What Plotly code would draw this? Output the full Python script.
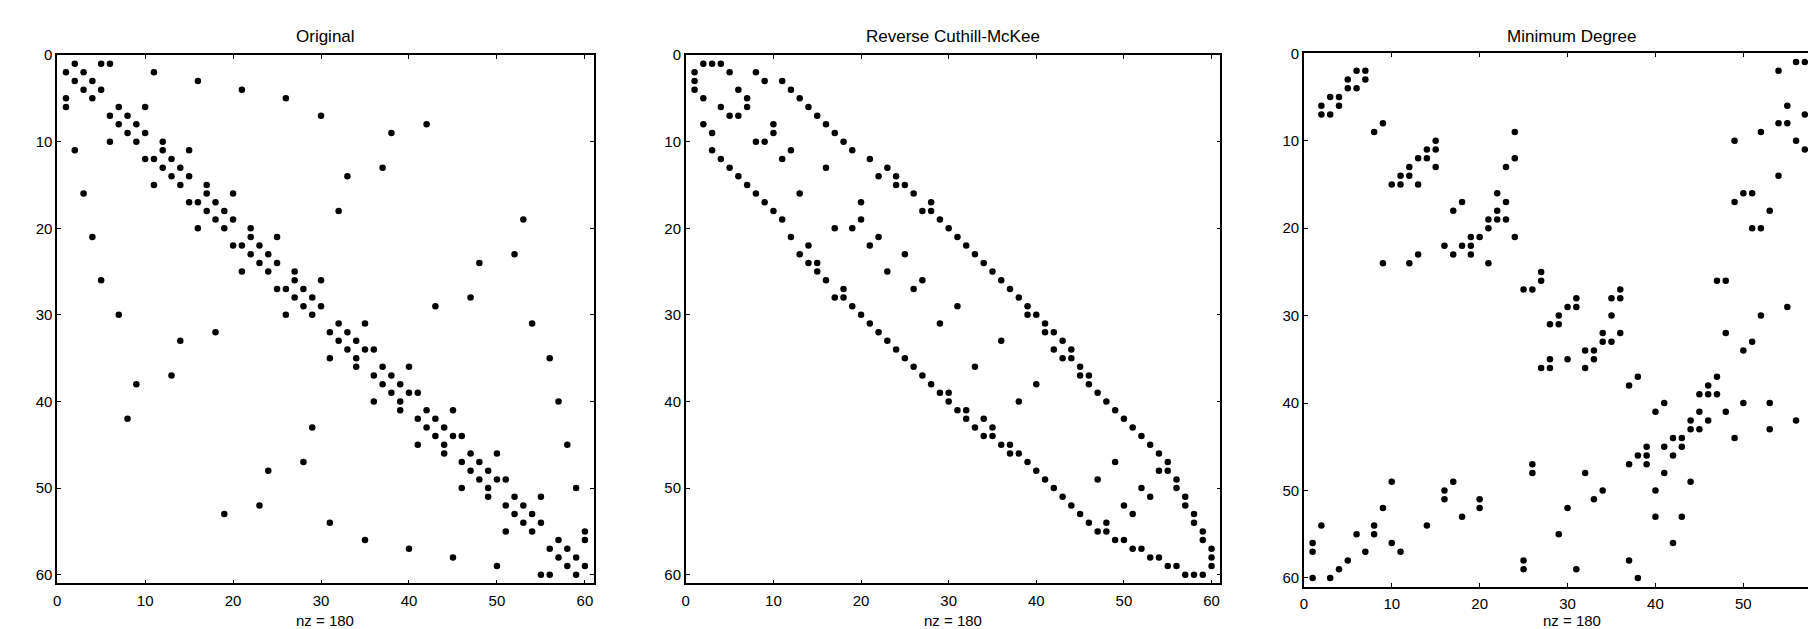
import plotly.graph_objects as go

# ---------------- data: upper-triangle nonzeros (row a, col b) of each 60x60 pattern ----------------
# Original ordering (bucky ball)
orig_a = [1, 2, 3, 4, 1, 6, 7, 8, 9, 6, 11, 12, 13, 14, 11, 16, 17, 18, 19, 16,
          21, 22, 23, 24, 21, 26, 27, 28, 29, 26, 31, 32, 33, 34, 31, 36, 37, 38, 39, 36,
          41, 42, 43, 44, 41, 46, 47, 48, 49, 46, 51, 52, 53, 54, 51, 56, 57, 58, 59, 56,
          1, 2, 3, 4, 5, 7, 8, 9, 10, 13, 14, 15, 18, 19, 20, 23, 24, 25, 28, 29,
          31, 34, 35, 39, 40, 44, 45, 49, 50, 55]
orig_b = [2, 3, 4, 5, 5, 7, 8, 9, 10, 10, 12, 13, 14, 15, 15, 17, 18, 19, 20, 20,
          22, 23, 24, 25, 25, 27, 28, 29, 30, 30, 32, 33, 34, 35, 35, 37, 38, 39, 40, 40,
          42, 43, 44, 45, 45, 47, 48, 49, 50, 50, 52, 53, 54, 55, 55, 57, 58, 59, 60, 60,
          6, 11, 16, 21, 26, 30, 42, 38, 12, 37, 33, 17, 32, 53, 22, 52, 48, 27, 47, 43,
          54, 36, 56, 41, 57, 46, 58, 51, 59, 60]

# Reverse Cuthill-McKee ordering
rcm_a = [1, 1, 1, 2, 2, 3, 3, 4, 4, 5, 5, 6, 6, 7, 8, 8, 9, 9, 10,
         11, 11, 12, 13, 13, 14, 14, 15, 15, 16, 17, 17, 18, 18, 19, 19, 20,
         21, 21, 22, 23, 23, 24, 25, 26, 26, 27, 28, 29, 29, 30, 30,
         31, 32, 32, 33, 33, 34, 34, 35, 35, 36, 37, 37, 38, 38, 39, 40,
         41, 42, 43, 44, 45, 46, 47, 47, 48, 48, 49, 50, 50,
         51, 51, 52, 53, 54, 55, 56, 57, 58, 59]
rcm_b = [2, 3, 4, 5, 8, 9, 11, 6, 12, 7, 13, 7, 14, 15, 10, 16, 10, 17, 18,
         12, 19, 21, 16, 23, 22, 24, 24, 25, 26, 20, 28, 27, 28, 20, 29, 30,
         22, 31, 32, 25, 33, 34, 35, 27, 36, 37, 38, 31, 39, 39, 40,
         41, 41, 42, 36, 43, 42, 44, 43, 44, 45, 45, 46, 40, 46, 47, 48,
         49, 50, 51, 52, 53, 54, 49, 55, 54, 55, 56, 52, 56,
         53, 57, 57, 58, 58, 59, 59, 60, 60, 60]

# Minimum Degree ordering
md_a = [1, 1, 1, 2, 2, 2, 3, 3, 3, 4, 4, 4, 5, 6, 7, 8, 8, 8, 9, 9,
        10, 10, 10, 11, 11, 11, 12, 12, 12, 13, 13, 14, 16, 16, 16, 17, 17, 17, 18, 18,
        19, 19, 19, 20, 20, 20, 21, 25, 25, 25, 26, 26, 26, 27, 28, 28, 28, 29, 29, 29,
        30, 30, 31, 32, 32, 32, 33, 33, 33, 34, 37, 37, 37, 38, 38, 39, 39, 39,
        40, 40, 40, 41, 41, 42, 42, 42, 43, 43, 43, 44]
md_b = [56, 57, 60, 6, 7, 54, 5, 7, 60, 5, 6, 59, 58, 55, 57, 9, 54, 55, 24, 52,
        15, 49, 56, 14, 15, 57, 13, 14, 24, 15, 23, 54, 22, 50, 51, 18, 23, 49, 22, 53,
        21, 22, 23, 21, 51, 52, 24, 27, 58, 59, 27, 47, 48, 36, 31, 35, 36, 30, 31, 55,
        35, 52, 59, 34, 36, 48, 34, 35, 51, 50, 38, 47, 58, 46, 60, 45, 46, 47,
        41, 50, 53, 45, 48, 44, 46, 56, 44, 45, 53, 49]

titles = ["Original", "Reverse Cuthill-McKee", "Minimum Degree"]
xlabel = "nz = 180"
tick_vals = [0, 10, 20, 30, 40, 50, 60]

W, H = 1808, 629
FONT = "Liberation Sans, Arial, Helvetica, sans-serif"

# panel geometry in pixels: (left, right, top, bottom, xmax_visible)
panels = [
    (53.3, 591.0, 46.7, 582.7, 61),
    (683.3, 1219.0, 46.7, 582.7, 61),
    (1302.7, 1808.0, 45.0, 586.0, (1808 - 1302.7) / 8.81),
]

fig = go.Figure()
for k, (a, b) in enumerate([(orig_a, orig_b), (rcm_a, rcm_b), (md_a, md_b)]):
    xs = list(b) + list(a)
    ys = list(a) + list(b)
    n = "" if k == 0 else str(k + 1)
    fig.add_trace(go.Scatter(
        x=xs, y=ys, mode="markers", xaxis="x" + n, yaxis="y" + n,
        marker=dict(size=6.5, color="black", line=dict(width=0)),
        showlegend=False, hoverinfo="x+y",
    ))

layout = dict(
    width=W, height=H, margin=dict(l=0, r=0, t=0, b=0),
    paper_bgcolor="white", plot_bgcolor="white", showlegend=False,
    font=dict(family=FONT, color="black"),
)
annotations = []
for k, (l, r, t, btm, xmax) in enumerate(panels):
    n = "" if k == 0 else str(k + 1)
    last = k == 2
    xa = dict(
        domain=[l / W, r / W], range=[0, xmax], anchor="y" + n,
        showline=True, linecolor="black", linewidth=1.5,
        mirror="ticks", ticks="inside", ticklen=4, tickwidth=1, tickcolor="black",
        tickvals=tick_vals, showgrid=False, zeroline=False,
        tickfont=dict(family=FONT, size=15, color="black"),
        ticklabelstandoff=3,
    )
    ya = dict(
        domain=[1 - btm / H, 1 - t / H], range=[61, 0], anchor="x" + n,
        showline=True, linecolor="black", linewidth=1.5,
        mirror=False if last else "ticks", ticks="inside", ticklen=4, tickwidth=1, tickcolor="black",
        tickvals=tick_vals, showgrid=False, zeroline=False,
        tickfont=dict(family=FONT, size=15, color="black"),
    )
    layout["xaxis" + n] = xa
    layout["yaxis" + n] = ya
    cx = (l + 61 * (r - l) / xmax / 2) / W if last else (l + r) / 2 / W
    annotations.append(dict(
        text=titles[k], x=cx, y=1 - 28 / H, xref="paper", yref="paper",
        xanchor="center", yanchor="middle", showarrow=False,
        font=dict(family=FONT, size=17, color="black"),
    ))
    annotations.append(dict(
        text=xlabel, x=cx, y=1 - 620 / H, xref="paper", yref="paper",
        xanchor="center", yanchor="middle", showarrow=False, borderpad=0,
        font=dict(family=FONT, size=15, color="black"),
    ))
layout["annotations"] = annotations
fig.update_layout(**layout)

fig.write_html(
    "out.html",
    config={"displayModeBar": False},
    post_script="document.body.style.margin='0';document.body.style.overflow='hidden';",
)
